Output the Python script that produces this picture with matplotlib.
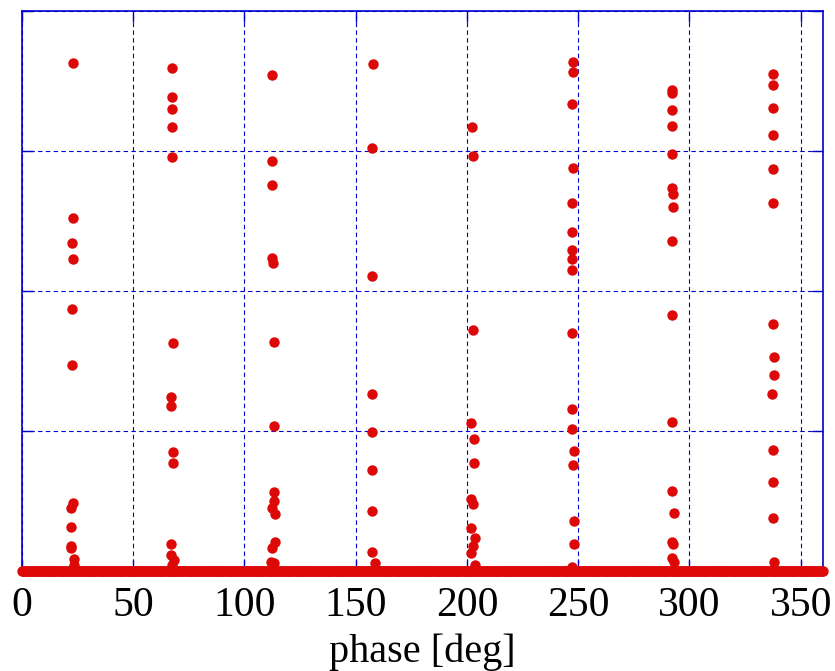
import matplotlib
matplotlib.use("Agg")
import matplotlib.pyplot as plt
import numpy as np

# peaks: (phase in deg, value)
phase_a = [22.8, 22.9, 22.4, 22.9, 22.3, 22.3, 23.0, 22.0, 22.0, 22.0, 22.0, 23.5, 23.4]
value_a = [3.629, 2.524, 2.341, 2.229, 1.874, 1.471, 0.484, 0.452, 0.316, 0.181, 0.166, 0.086, 0.043]

phase_b = [67.4, 67.4, 67.4, 67.4, 67.4, 68.1, 67.2, 67.2, 68.1, 68.1, 66.9, 67.0, 68.3, 67.6]
value_b = [3.595, 3.386, 3.298, 3.171, 2.959, 1.626, 1.245, 1.181, 0.852, 0.769, 0.191, 0.114, 0.079, 0.043]

phase_c = [112.4, 112.4, 112.4, 112.3, 112.9, 113.1, 113.1, 113.1, 113.1, 112.2, 113.5, 113.5, 112.2, 112.0, 113.3]
value_c = [3.545, 2.929, 2.759, 2.234, 2.198, 1.638, 1.039, 0.566, 0.502, 0.448, 0.405, 0.205, 0.166, 0.066, 0.055]

phase_d = [157.7, 157.4, 157.1, 157.1, 157.1, 157.1, 157.1, 157.1, 158.6]
value_d = [3.619, 3.024, 2.109, 1.264, 0.991, 0.719, 0.429, 0.138, 0.055]

phase_e = [202.3, 202.5, 202.9, 202.0, 203.0, 203.0, 202.0, 202.5, 201.7, 203.4, 202.5, 201.7, 203.5]
value_e = [3.174, 2.964, 1.721, 1.057, 0.941, 0.768, 0.514, 0.479, 0.309, 0.234, 0.179, 0.126, 0.043]

phase_f = [247.7, 247.7, 247.4, 247.8, 247.4, 247.4, 247.4, 247.4, 247.4, 247.4, 247.4, 247.4, 248.0, 247.6, 248.0, 248.0, 247.4]
value_f = [3.634, 3.562, 3.338, 2.876, 2.631, 2.419, 2.293, 2.229, 2.148, 1.702, 1.155, 1.014, 0.857, 0.757, 0.357, 0.195, 0.031]

phase_g = [292.3, 292.3, 292.3, 292.3, 292.3, 292.2, 292.6, 292.7, 292.3, 292.3, 292.0, 292.0, 292.9, 292.0, 292.6, 292.2, 292.9]
value_g = [3.436, 3.412, 3.295, 3.176, 2.979, 2.736, 2.691, 2.598, 2.357, 1.829, 1.062, 0.573, 0.414, 0.209, 0.191, 0.091, 0.066]

phase_h = [337.5, 337.5, 337.5, 337.5, 337.5, 337.5, 337.5, 337.8, 337.8, 337.0, 337.4, 337.6, 337.6, 337.8]
value_h = [3.55, 3.471, 3.305, 3.114, 2.869, 2.631, 1.762, 1.531, 1.402, 1.264, 0.864, 0.639, 0.381, 0.061]

# dense samples sitting at zero over the whole phase range
baseline_phase = np.arange(0, 360.5, 0.5)
baseline_value = np.zeros_like(baseline_phase)

x_ticks = [0, 50, 100, 150, 200, 250, 300, 350]
y_ticks = [0, 1, 2, 3, 4]

red = "#dd0808"
blue = "#0000cc"

fig = plt.figure(figsize=(8.35, 6.71), dpi=100)
ax = fig.add_axes([0.0263, 0.149, 0.9593, 0.8347])

ax.plot(baseline_phase, baseline_value, "o", color=red, ms=7.5, mew=0, clip_on=False, zorder=3)
for px, vy in [(phase_a, value_a), (phase_b, value_b), (phase_c, value_c), (phase_d, value_d),
               (phase_e, value_e), (phase_f, value_f), (phase_g, value_g), (phase_h, value_h)]:
    ax.plot(px, vy, "o", color=red, ms=7.5, mew=0, clip_on=False, zorder=3)

ax.set_xlim(0, 360)
ax.set_ylim(0, 4)
ax.set_xticks(x_ticks)
ax.set_yticks(y_ticks)
ax.set_yticklabels([])
ax.grid(True, color=blue, linestyle=(0, (4, 3)), linewidth=0.8)
ax.set_axisbelow(True)
for s in ax.spines.values():
    s.set_color(blue)
    s.set_linewidth(1.2)
ax.tick_params(direction="in", length=8, width=1.0, color=blue, top=True, right=True,
               pad=11, labelsize=30)
for lab in ax.get_xticklabels():
    lab.set_family("Liberation Serif")
ax.set_xlabel("phase [deg]", fontsize=29, family="Liberation Serif", labelpad=6)

fig.savefig("out.png", dpi=100)
